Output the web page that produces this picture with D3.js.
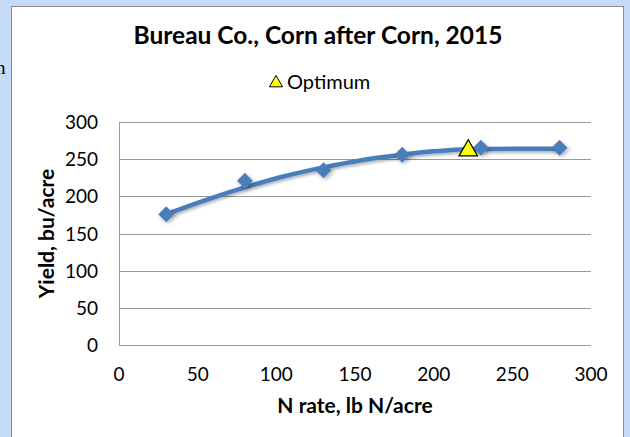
<!DOCTYPE html>
<html>
<style>
body { margin: 0; background: #c6dbf6; }
svg { display: block; }
text { font-family: Lato, "Open Sans", sans-serif; fill: #000; }
.grid line { stroke: #9a9a9a; stroke-width: 1px; }
</style>
<svg width="630" height="437"></svg>
<script src="https://cdn.jsdelivr.net/npm/d3@7/dist/d3.min.js"></script>
<script>
// measured N rate trials
var nRate = [30, 80, 130, 180, 230, 280];
var yieldVals = [176, 221, 235, 256, 265.5, 265.5];

// fitted response curve
var fitX = [30, 55, 80, 105, 130, 155, 180, 200, 222, 250, 280];
var fitY = [176, 195, 212, 227, 239, 249, 256, 260.5, 263.5, 264, 264];

var optimumX = [222];
var optimumY = [263];

var xTicks = [0, 50, 100, 150, 200, 250, 300];
var yTicks = [0, 50, 100, 150, 200, 250, 300];

var svg = d3.select("svg");

// stray document text at the left edge
svg.append("text")
    .attr("x", -4).attr("y", 74)
    .style("font-family", "'Liberation Serif', serif")
    .style("font-size", "19px")
    .text("n");

// chart box
svg.append("rect")
    .attr("x", 11.5).attr("y", 6.5)
    .attr("width", 612).attr("height", 440)
    .attr("fill", "#fff")
    .attr("stroke", "#8c8c8c");

var pLeft = 119, pRight = 591, pTop = 122, pBottom = 345;

var x = d3.scaleLinear().domain([0, 300]).range([pLeft, pRight]);
var y = d3.scaleLinear().domain([0, 300]).range([pBottom, pTop]);

// gridlines
svg.append("g").attr("class", "grid")
  .selectAll("line")
  .data(yTicks)
  .enter().append("line")
    .attr("x1", pLeft).attr("x2", pRight)
    .attr("y1", function(d) { return Math.round(y(d)) + 0.5; })
    .attr("y2", function(d) { return Math.round(y(d)) + 0.5; });

svg.append("line")
    .attr("x1", pLeft + 0.5).attr("x2", pLeft + 0.5)
    .attr("y1", pTop).attr("y2", pBottom)
    .attr("stroke", "#9a9a9a");

// tick labels
svg.append("g")
  .selectAll("text")
  .data(yTicks)
  .enter().append("text")
    .attr("x", 98)
    .attr("y", function(d) { return y(d) + 7; })
    .attr("text-anchor", "end")
    .style("font-size", "19px")
    .text(function(d) { return d; });

svg.append("g")
  .selectAll("text")
  .data(xTicks)
  .enter().append("text")
    .attr("x", function(d) { return x(d); })
    .attr("y", 381)
    .attr("text-anchor", "middle")
    .style("font-size", "19px")
    .text(function(d) { return d; });

// titles
svg.append("text")
    .attr("x", 318).attr("y", 44)
    .attr("text-anchor", "middle")
    .style("font-size", "24.5px").style("font-weight", "bold")
    .text("Bureau Co., Corn after Corn, 2015");

svg.append("text")
    .attr("x", (pLeft + pRight) / 2).attr("y", 413)
    .attr("text-anchor", "middle")
    .style("font-size", "21px").style("font-weight", "bold")
    .text("N rate, lb N/acre");

svg.append("text")
    .attr("transform", "translate(54," + (pTop + pBottom) / 2 + ") rotate(-90)")
    .attr("text-anchor", "middle")
    .style("font-size", "21px").style("font-weight", "bold")
    .text("Yield, bu/acre");

// legend
var tri = d3.symbol().type(d3.symbolTriangle);
svg.append("path")
    .attr("d", tri.size(75)())
    .attr("transform", "translate(276,83)")
    .attr("fill", "#ffff00").attr("stroke", "#000").attr("stroke-width", 1);
svg.append("text")
    .attr("x", 287).attr("y", 89)
    .style("font-size", "20px")
    .text("Optimum");

// shadow filter for markers
var defs = svg.append("defs");
var f = defs.append("filter").attr("id", "shadow")
    .attr("x", "-50%").attr("y", "-50%").attr("width", "200%").attr("height", "200%");
f.append("feDropShadow").attr("dx", 1).attr("dy", 2).attr("stdDeviation", 1.5)
    .attr("flood-color", "#000").attr("flood-opacity", 0.3);

// fitted line
var line = d3.line()
    .x(function(d, i) { return x(fitX[i]); })
    .y(function(d, i) { return y(fitY[i]); })
    .curve(d3.curveMonotoneX);

svg.append("path")
    .datum(fitX)
    .attr("d", line)
    .attr("fill", "none")
    .attr("stroke", "#4a7ebb")
    .attr("stroke-width", 4.5)
    .attr("filter", "url(#shadow)");

// diamond markers
var diamond = d3.symbol().type(d3.symbolDiamond).size(74);
svg.append("g")
  .selectAll("path")
  .data(nRate)
  .enter().append("path")
    .attr("d", diamond())
    .attr("transform", function(d, i) { return "translate(" + x(d) + "," + y(yieldVals[i]) + ") scale(1.7,1)"; })
    .attr("fill", "#4a7ebb")
    .attr("filter", "url(#shadow)");

// optimum marker
svg.append("g")
  .selectAll("path")
  .data(optimumX)
  .enter().append("path")
    .attr("d", tri.size(150)())
    .attr("transform", function(d, i) { return "translate(" + x(d) + "," + (y(optimumY[i]) + 1) + ")"; })
    .attr("fill", "#ffff00")
    .attr("stroke", "#000")
    .attr("stroke-width", 1.2);
</script>
</html>
